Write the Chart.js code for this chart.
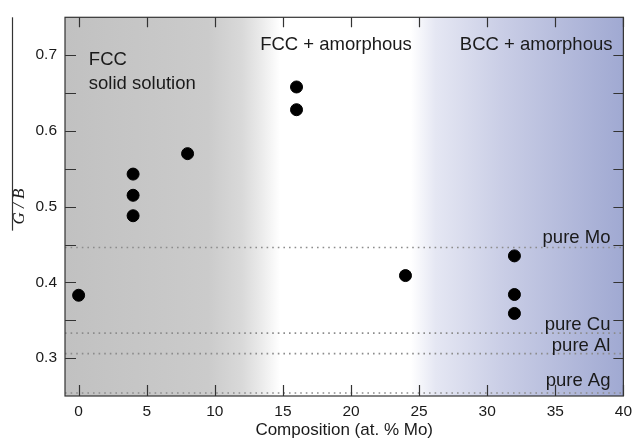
<!DOCTYPE html>
<html>
<head>
<meta charset="utf-8">
<script src="https://cdn.jsdelivr.net/npm/chart.js@4.4.1/dist/chart.umd.min.js"></script>
<style>
  html, body { margin: 0; padding: 0; background: #fff; }
  #wrap { width: 638px; height: 443px; }
</style>
</head>
<body>
<div id="wrap"><canvas id="chart" width="638" height="443"></canvas></div>
<script>
// measured films: composition (at. % Mo) and G/B
const composition = [0, 4, 4, 4, 8, 16, 16, 24, 32, 32, 32];
const gOverB = [0.383, 0.543, 0.515, 0.488, 0.570, 0.658, 0.628, 0.409, 0.435, 0.384, 0.359];

// G/B of the pure metals (dotted reference lines)
const pureNames = ["pure Mo", "pure Cu", "pure Al", "pure Ag"];
const pureValues = [0.446, 0.333, 0.306, 0.254];

const xTicks = [0, 5, 10, 15, 20, 25, 30, 35, 40];
const yTicks = [0.3, 0.4, 0.5, 0.6, 0.7];
const yTickMarks = [0.3, 0.35, 0.4, 0.45, 0.5, 0.55, 0.6, 0.65, 0.7];

const X_MIN = -1, X_MAX = 40;

// region labels, placed in data units
const regionLabels = [
  { text: "FCC", x: 0.75, y: 0.694, align: "left" },
  { text: "solid solution", x: 0.75, y: 0.662, align: "left" },
  { text: "FCC + amorphous", x: 18.9, y: 0.714, align: "center" },
  { text: "BCC + amorphous", x: 39.2, y: 0.713, align: "right" }
];
const pureLabelY = [0.4587, 0.3444, 0.3157, 0.270];

const TEXT = "#1a1a1a";
const SANS = "'Liberation Sans', Arial, Helvetica, sans-serif";

const points = composition.map((c, i) => ({ x: c, y: gOverB[i] }));

const refSets = pureValues.map((v, i) => ({
  type: "line",
  label: pureNames[i],
  data: [{ x: X_MIN, y: v }, { x: X_MAX, y: v }],
  borderColor: "#8c8c8c",
  borderWidth: 1.6,
  borderDash: [1.6, 4],
  pointRadius: 0,
  fill: false
}));

const framePlugin = {
  id: "frame",
  beforeDraw(chart) {
    const { ctx, chartArea: a, scales } = chart;
    const xs = scales.x;
    const frac = v => (xs.getPixelForValue(v) - a.left) / a.width;
    const g = ctx.createLinearGradient(a.left, 0, a.right, 0);
    g.addColorStop(0, "#c1c1c1");
    g.addColorStop(frac(9.5), "#cbcbcb");
    g.addColorStop(frac(12), "#d9d9d9");
    g.addColorStop(frac(13.5), "#ececec");
    g.addColorStop(frac(14.8), "#ffffff");
    g.addColorStop(frac(24.4), "#ffffff");
    g.addColorStop(frac(26.2), "#e5e7f3");
    g.addColorStop(frac(31), "#cacee6");
    g.addColorStop(1, "#a0a9d2");
    ctx.save();
    ctx.fillStyle = g;
    ctx.fillRect(a.left, a.top, a.width, a.height);
    ctx.restore();
  },
  afterDatasetsDraw(chart) {
    const { ctx, chartArea: a, scales } = chart;
    const xs = scales.x, ys = scales.y;
    ctx.save();
    ctx.strokeStyle = "#333";
    ctx.lineWidth = 1.2;
    ctx.strokeRect(a.left, a.top, a.width, a.height);

    ctx.beginPath();
    xTicks.forEach(v => {
      const px = Math.round(xs.getPixelForValue(v)) + 0.5;
      ctx.moveTo(px, a.bottom); ctx.lineTo(px, a.bottom - 11);
      ctx.moveTo(px, a.top); ctx.lineTo(px, a.top + 10);
    });
    yTickMarks.forEach(v => {
      const py = Math.round(ys.getPixelForValue(v)) + 0.5;
      ctx.moveTo(a.left, py); ctx.lineTo(a.left + 11, py);
      ctx.moveTo(a.right, py); ctx.lineTo(a.right - 10, py);
    });
    ctx.stroke();

    // overline next to the rotated y title
    const cy = (a.top + a.bottom) / 2;
    ctx.beginPath();
    ctx.moveTo(12.5, a.top);
    ctx.lineTo(12.5, cy + 24);
    ctx.stroke();

    ctx.fillStyle = TEXT;
    ctx.textBaseline = "middle";
    ctx.font = "18.5px " + SANS;
    regionLabels.forEach(l => {
      ctx.textAlign = l.align;
      ctx.fillText(l.text, xs.getPixelForValue(l.x), ys.getPixelForValue(l.y));
    });
    ctx.textAlign = "right";
    pureNames.forEach((n, i) => {
      ctx.fillText(n, xs.getPixelForValue(39.05), ys.getPixelForValue(pureLabelY[i]));
    });
    ctx.restore();
  }
};

new Chart(document.getElementById("chart"), {
  type: "scatter",
  data: {
    datasets: [
      ...refSets,
      {
        label: "G/B",
        data: points,
        backgroundColor: "#000",
        borderColor: "#000",
        pointRadius: 6,
        pointHoverRadius: 6
      }
    ]
  },
  options: {
    responsive: false,
    animation: false,
    events: [],
    layout: { padding: { top: 13, right: 11, bottom: 0, left: 0 } },
    plugins: {
      legend: { display: false },
      tooltip: { enabled: false }
    },
    scales: {
      x: {
        type: "linear",
        min: X_MIN,
        max: X_MAX,
        afterBuildTicks: s => { s.ticks = xTicks.map(v => ({ value: v })); },
        afterFit: s => { s.height = 47; },
        grid: { display: false, drawTicks: false },
        border: { display: false },
        ticks: { color: TEXT, padding: 6, font: { size: 15.5, family: SANS } },
        title: {
          display: true,
          text: "Composition (at. % Mo)",
          color: TEXT,
          font: { size: 17, family: SANS },
          padding: { top: 0, bottom: 2 }
        }
      },
      y: {
        min: 0.25,
        max: 0.75,
        afterBuildTicks: s => { s.ticks = yTicks.map(v => ({ value: v })); },
        afterFit: s => { s.width = 65; },
        grid: { display: false, drawTicks: false },
        border: { display: false },
        ticks: {
          color: TEXT,
          padding: 8,
          font: { size: 15.5, family: SANS },
          callback: v => v.toFixed(1)
        },
        title: {
          display: true,
          text: "G / B",
          color: TEXT,
          font: { size: 17, family: "'Liberation Serif', 'Times New Roman', serif", style: "italic" },
          padding: { top: 9, bottom: 0 }
        }
      }
    }
  },
  plugins: [framePlugin]
});
</script>
</body>
</html>
